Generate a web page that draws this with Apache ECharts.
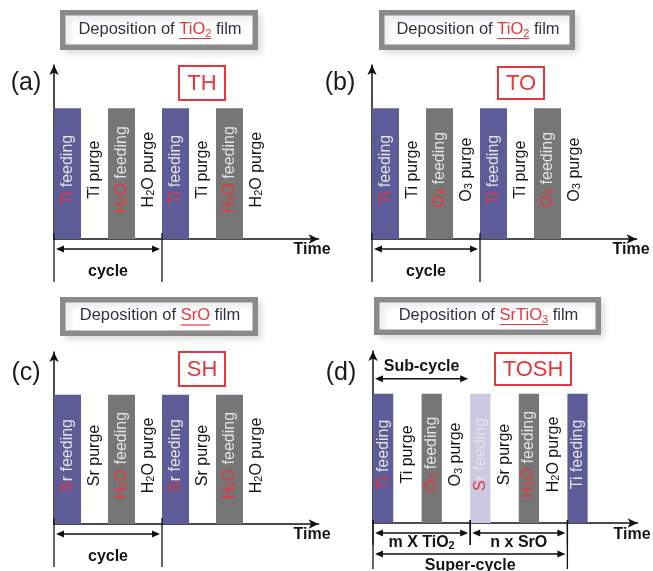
<!DOCTYPE html>
<html><head><meta charset="utf-8">
<script src="https://cdn.jsdelivr.net/npm/echarts@6/dist/echarts.min.js"></script>
<style>html,body{margin:0;padding:0;background:#fff}#c{width:653px;height:571px}</style>
</head><body><div id="c"></div>
<script>
// ---------------- data ----------------
const panelLetters = ['(a)', '(b)', '(c)', '(d)'];
const processNames = ['TH', 'TO', 'SH', 'TOSH'];
const filmNames = ['TiO', 'TiO', 'SrO', 'SrTiO'];
const filmSubs = ['2', '2', '', '3'];
const axisName = 'Time';
const stepHeight = 1;

const stepDurA = [1, 1, 1, 1, 1, 1, 1, 1];
const stepFillA = ['ti', 'gap', 'ox', 'gap', 'ti', 'gap', 'ox', 'gap'];
const stepTextA = ['{r|Ti} feeding', 'Ti purge', '{r|H}{rs|2}{r|O} feeding', 'H{s|2}O purge',
                   '{r|Ti} feeding', 'Ti purge', '{r|H}{rs|2}{r|O} feeding', 'H{s|2}O purge'];

const stepDurB = [1, 1, 1, 1, 1, 1, 1, 1];
const stepFillB = ['ti', 'gap', 'ox', 'gap', 'ti', 'gap', 'ox', 'gap'];
const stepTextB = ['{r|Ti} feeding', 'Ti purge', '{r|O}{rs|3} feeding', 'O{s|3} purge',
                   '{r|Ti} feeding', 'Ti purge', '{r|O}{rs|3} feeding', 'O{s|3} purge'];

const stepDurC = [1, 1, 1, 1, 1, 1, 1, 1];
const stepFillC = ['ti', 'gap', 'ox', 'gap', 'ti', 'gap', 'ox', 'gap'];
const stepTextC = ['{r|S}r feeding', 'Sr purge', '{r|H}{rs|2}{r|O} feeding', 'H{s|2}O purge',
                   '{r|S}r feeding', 'Sr purge', '{r|H}{rs|2}{r|O} feeding', 'H{s|2}O purge'];

const stepDurD = [0.75, 1.05, 0.75, 1.05, 0.75, 1.05, 0.75, 1.05, 0.75];
const stepFillD = ['ti', 'gap', 'ox', 'gap', 'srl', 'gap', 'ox', 'gap', 'ti'];
const stepTextD = ['{r|Ti} feeding', 'Ti purge', '{r|O}{rs|3} feeding', 'O{s|3} purge', '{r|S}r feeding',
                   'Sr purge', '{r|H}{rs|2}{r|O} feeding', 'H{s|2}O purge', 'Ti feeding'];

const spanFromA = [0], spanToA = [4], spanTextA = ['cycle'], spanRowA = ['cycle'];
const spanFromB = [0], spanToB = [4], spanTextB = ['cycle'], spanRowB = ['cycle'];
const spanFromC = [0], spanToC = [4], spanTextC = ['cycle'], spanRowC = ['cycle'];
const spanFromD = [0, 0, 3.6, 0];
const spanToD = [3.6, 3.6, 7.2, 7.2];
const spanTextD = ['Sub-cycle', 'm X TiO{s|2}', 'n x SrO', 'Super-cycle'];
const spanRowD = ['sub', 'part', 'part', 'super'];

// ---------------- styles ----------------
const FF = '"Liberation Sans", Arial, Helvetica, sans-serif';
const RED = '#e6363c';
const fillColors = { ti: '#5d5b98', ox: '#767676', srl: '#cbc8e3' };
const spanLayout = {
  cycle: { ref: 'axis', arrow: 10, text: 33, tick: [-6, 43] },
  sub:   { ref: 'top', arrow: -15, text: -27 },
  part:  { ref: 'axis', arrow: 10, text: 20, tick: [-3, 22] },
  super: { ref: 'axis', arrow: 31, text: 43, tick: [-3, 46] }
};

function richFor(color, size, sub, weight) {
  weight = weight || 'normal';
  return {
    r:  { fill: RED, fontSize: size, fontFamily: FF, fontWeight: weight },
    rs: { fill: RED, fontSize: sub, fontFamily: FF, fontWeight: weight, verticalAlign: 'bottom' },
    s:  { fill: color, fontSize: sub, fontFamily: FF, fontWeight: weight, verticalAlign: 'bottom' }
  };
}

function buildSteps(durs) {
  const out = []; let t = 0;
  durs.forEach((d, i) => { out.push([t, t + d, stepHeight, i]); t += d; });
  return out;
}

function stepRenderer(fills, texts) {
  return function (params, api) {
    const i = api.value(3);
    const p0 = api.coord([api.value(0), 0]);
    const p1 = api.coord([api.value(1), api.value(2)]);
    const children = [];
    const kind = fills[i];
    if (kind !== 'gap') {
      children.push({ type: 'rect', shape: { x: p0[0], y: p1[1], width: p1[0] - p0[0], height: p0[1] - p1[1] },
        style: { fill: fillColors[kind] } });
    }
    const col = kind === 'gap' ? '#141414' : '#e4e4e4';
    const cy = api.coord([0, 0.53])[1];
    children.push({ type: 'text', x: (p0[0] + p1[0]) / 2, y: cy, rotation: Math.PI / 2,
      style: { text: texts[i], fill: col, fontSize: 16, fontFamily: FF, align: 'center', verticalAlign: 'middle',
        rich: richFor(col, 16, 11) } });
    return { type: 'group', children };
  };
}

function spanRenderer(texts, rows) {
  return function (params, api) {
    const i = api.value(2);
    const L = spanLayout[rows[i]];
    const x0 = api.coord([api.value(0), 0])[0];
    const x1 = api.coord([api.value(1), 0])[0];
    const ay = api.coord([0, 0])[1];
    const top = api.coord([0, stepHeight])[1];
    const base = L.ref === 'top' ? top : ay;
    const y = base + L.arrow, ty = base + L.text;
    const c = [];
    if (L.tick) {
      [x0, x1].forEach(x => c.push({ type: 'line', shape: { x1: x, y1: ay + L.tick[0], x2: x, y2: ay + L.tick[1] },
        style: { stroke: '#111', lineWidth: 1.3 } }));
    }
    const a0 = x0 + 2, a1 = x1 - 2;
    c.push({ type: 'line', shape: { x1: a0 + 3, y1: y, x2: a1 - 3, y2: y }, style: { stroke: '#111', lineWidth: 1.5 } });
    c.push({ type: 'polygon', shape: { points: [[a0, y], [a0 + 8, y - 3.5], [a0 + 8, y + 3.5]] }, style: { fill: '#111' } });
    c.push({ type: 'polygon', shape: { points: [[a1, y], [a1 - 8, y - 3.5], [a1 - 8, y + 3.5]] }, style: { fill: '#111' } });
    c.push({ type: 'text', x: (x0 + x1) / 2, y: ty,
      style: { text: texts[i], fill: '#141414', fontSize: 16, fontWeight: 'bold', fontFamily: FF,
        align: 'center', verticalAlign: 'middle', rich: richFor('#141414', 16, 11, 'bold') } });
    return { type: 'group', children: c };
  };
}

// ---------------- layout ----------------
const grids = [
  { left: 54, top: 65, width: 264.6, height: 174 },
  { left: 372, top: 65, width: 264.6, height: 174 },
  { left: 54, top: 352, width: 264.6, height: 172 },
  { left: 373, top: 351, width: 264.6, height: 172 }
];
const panels = [
  [stepDurA, stepFillA, stepTextA, spanFromA, spanToA, spanTextA, spanRowA],
  [stepDurB, stepFillB, stepTextB, spanFromB, spanToB, spanTextB, spanRowB],
  [stepDurC, stepFillC, stepTextC, spanFromC, spanToC, spanTextC, spanRowC],
  [stepDurD, stepFillD, stepTextD, spanFromD, spanToD, spanTextD, spanRowD]
];

const axisLineStyle = { color: '#111', width: 1.5 };
const xAxes = grids.map((g, i) => ({ type: 'value', gridIndex: i, min: 0, max: 9.8,
  axisLine: { show: true, onZero: false, symbol: ['none', 'arrow'], symbolSize: [7, 10], lineStyle: axisLineStyle },
  axisTick: { show: false }, axisLabel: { show: false }, splitLine: { show: false } }));
const yAxes = grids.map((g, i) => ({ type: 'value', gridIndex: i, min: 0, max: 1.33,
  axisLine: { show: true, onZero: false, symbol: ['none', 'arrow'], symbolSize: [7, 10], lineStyle: axisLineStyle },
  axisTick: { show: false }, axisLabel: { show: false }, splitLine: { show: false } }));

const series = [];
panels.forEach((p, i) => {
  series.push({ type: 'custom', xAxisIndex: i, yAxisIndex: i, clip: false, silent: true,
    renderItem: stepRenderer(p[1], p[2]), encode: { x: [0, 1], y: 2 }, data: buildSteps(p[0]) });
  series.push({ type: 'custom', xAxisIndex: i, yAxisIndex: i, clip: false, silent: true,
    renderItem: spanRenderer(p[5], p[6]), encode: { x: [0, 1] },
    data: p[3].map((f, k) => [f, p[4][k], k]) });
});

// ---------------- decorations (boxes, labels) ----------------
const measureCtx = document.createElement('canvas').getContext('2d');
function measure(txt, font) { measureCtx.font = font; return measureCtx.measureText(txt).width; }

const titleBoxes = [
  { x0: 60, y0: 10, x1: 258, y1: 50 },
  { x0: 379, y0: 10, x1: 575, y1: 50 },
  { x0: 60, y0: 297, x1: 258, y1: 336 },
  { x0: 374, y0: 297, x1: 601, y1: 335 }
];
const redBoxes = [
  { x0: 178, y0: 65, x1: 226, y1: 101 },
  { x0: 497, y0: 66, x1: 545, y1: 100 },
  { x0: 178, y0: 351, x1: 226, y1: 387 },
  { x0: 494, y0: 352, x1: 572, y1: 386 }
];
const letterPos = [[26, 83], [340, 83], [26, 373], [341, 373]];
const timePos = [[312, 250], [631, 250], [312, 535], [632, 535]];

const graphic = [];
const TCOL = '#33333f';
const fMain = '16.5px ' + FF, fSub = '11px ' + FF;
titleBoxes.forEach((b, i) => {
  const lw = 5.5;
  graphic.push({ type: 'rect', silent: true,
    shape: { x: b.x0 + lw / 2, y: b.y0 + lw / 2, width: b.x1 - b.x0 - lw, height: b.y1 - b.y0 - lw },
    style: { fill: '#fff', stroke: '#8a8a8a', lineWidth: lw, shadowBlur: 6, shadowOffsetX: 4, shadowOffsetY: 4,
      shadowColor: 'rgba(0,0,0,0.10)' } });
  const parts = [
    { t: 'Deposition of ', f: fMain, c: TCOL, dy: 0 },
    { t: filmNames[i], f: fMain, c: RED, dy: 0 },
    { t: filmSubs[i], f: fSub, c: RED, dy: 5 },
    { t: ' film', f: fMain, c: TCOL, dy: 0 }
  ];
  const widths = parts.map(p => p.t ? measure(p.t, p.f) : 0);
  const total = widths.reduce((a, b) => a + b, 0);
  const cx = (b.x0 + b.x1) / 2 + 1, cy = (b.y0 + b.y1) / 2 - 1;
  let x = cx - total / 2;
  let ux0 = 0, ux1 = 0;
  parts.forEach((p, k) => {
    if (k === 1) ux0 = x;
    if (p.t) graphic.push({ type: 'text', silent: true, x: x, y: cy + p.dy,
      style: { text: p.t, font: p.f, fill: p.c, align: 'left', verticalAlign: 'middle' } });
    x += widths[k];
    if (k === 2) ux1 = x;
  });
  graphic.push({ type: 'line', silent: true, shape: { x1: ux0, y1: cy + 9.5, x2: ux1, y2: cy + 9.5 },
    style: { stroke: RED, lineWidth: 1.2 } });
});
redBoxes.forEach((b, i) => {
  graphic.push({ type: 'rect', silent: true, shape: { x: b.x0 + 1, y: b.y0 + 1, width: b.x1 - b.x0 - 2, height: b.y1 - b.y0 - 2 },
    style: { fill: '#fff', stroke: RED, lineWidth: 2 } });
  graphic.push({ type: 'text', silent: true, x: (b.x0 + b.x1) / 2, y: (b.y0 + b.y1) / 2 + 1,
    style: { text: processNames[i], font: '22px ' + FF, fill: RED, align: 'center', verticalAlign: 'middle' } });
});
letterPos.forEach((p, i) => {
  graphic.push({ type: 'text', silent: true, x: p[0], y: p[1],
    style: { text: panelLetters[i], font: '25px ' + FF, fill: '#1a1a1a', align: 'center', verticalAlign: 'middle' } });
});
timePos.forEach((p) => {
  graphic.push({ type: 'text', silent: true, x: p[0], y: p[1],
    style: { text: axisName, font: 'bold 16px ' + FF, fill: '#141414', align: 'center', verticalAlign: 'middle' } });
});

const chart = echarts.init(document.getElementById('c'), null, { renderer: 'canvas' });
chart.setOption({
  animation: false,
  backgroundColor: '#fff',
  grid: grids,
  xAxis: xAxes,
  yAxis: yAxes,
  series: series,
  graphic: graphic
});
</script>
</body></html>
